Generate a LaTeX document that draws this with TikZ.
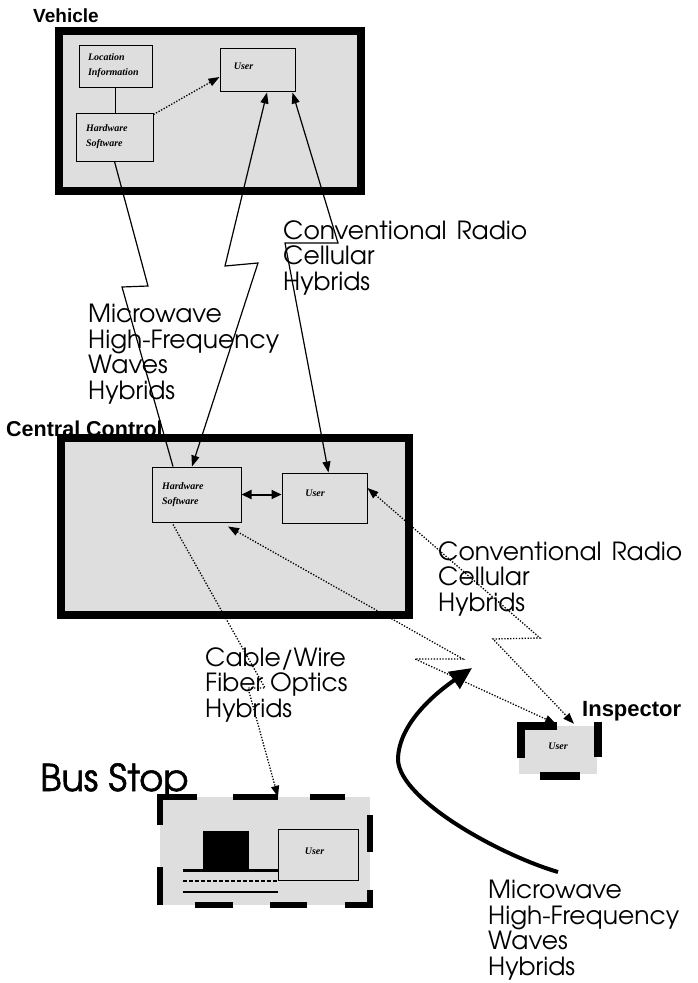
\documentclass[tikz,border=0pt]{standalone}
\usepackage{fontspec}
\usetikzlibrary{arrows.meta}
\newfontfamily\agfont{texgyreadventor-regular.otf}
\newfontfamily\agfontb{texgyreadventor-regular.otf}[FakeBold=1.5]
\newfontfamily\lsfont{Liberation Sans}
\newfontfamily\scrfont{Liberation Serif}
\definecolor{stip}{gray}{0.87}
\begin{document}
\begin{tikzpicture}[x=1pt,y=-1pt,
  bigbox/.style={draw=black, line width=8pt, fill=stip, inner sep=0pt},
  smallbox/.style={draw=black, line width=1pt, fill=stip, inner ysep=2pt, inner xsep=0pt,
    font=\scrfont\fontsize{10}{15}\selectfont\bfseries\itshape, align=left},
  ttl/.style={font=\lsfont\bfseries\fontsize{19}{22}\selectfont, inner sep=0pt, anchor=north west},
  media/.style={font=\agfont\fontsize{25}{25.5}\selectfont, align=left, inner sep=0pt, anchor=north west},
  thinline/.style={line width=1.2pt},
  tipboth/.style={{Triangle[length=11pt,width=8pt]}-{Triangle[length=11pt,width=8pt]}},
  tipend/.style={-{Triangle[length=11pt,width=8pt]}},
  dotline/.style={line width=1.3pt, dash pattern=on 1.3pt off 1.6pt},
  busdash/.style={line width=6pt},
  inspbar/.style={line width=8pt},
]
\fill[white] (0,0) rectangle (697,983);
\useasboundingbox (0,0) rectangle (697,983);

% ---------- Vehicle ----------
\node[ttl] (lvehicle) at (33,9) {Vehicle};
\node[bigbox, minimum width=302, minimum height=160] (vehicle) at (210,111) {};
\node[smallbox, text width=55pt, minimum width=73, minimum height=42] (vloc) at (115.5,66) {Location\\Information};
\node[smallbox, text width=57pt, minimum width=77, minimum height=48] (vhw) at (114.5,137) {Hardware\\Software};
\node[smallbox, minimum width=75, minimum height=43] (vuser) at (257.5,69.5) {\raisebox{7pt}{User}\hspace{28pt}};
\draw[thinline] (vloc.south) -- (vloc.south |- vhw.north);
\draw[dotline, tipend] ([yshift=-2pt]vhw.north east) -- ([yshift=-7.5pt]vuser.west);

% ---------- Central Control ----------
\node[bigbox, minimum width=348, minimum height=177] (central) at (235,526.5) {};
\node[ttl, anchor=base west, font=\lsfont\bfseries\fontsize{21.5}{24}\selectfont] (lcentral) at (6,436) {Central Control};
\node[smallbox, text width=69pt, minimum width=89, minimum height=55] (chw) at (196.5,494.5) {Hardware\\Software};
\node[smallbox, minimum width=85, minimum height=50] (cuser) at (324.5,498) {\raisebox{10pt}{User}\hspace{19pt}};
\draw[line width=2pt, {Triangle[length=10pt,width=9pt]}-{Triangle[length=10pt,width=9pt]}]
  (chw.east) -- (chw.east -| cuser.west);

% ---------- Bus Stop ----------
\node[inner sep=0pt, anchor=base west, font=\agfontb\fontsize{37}{40}\selectfont] (lbus) at (40,791) {Bus Stop};
\node[fill=stip, minimum width=210, minimum height=108, inner sep=0pt] (bus) at (265,851) {};
\draw[busdash] (157,797) -- (197,797);
\draw[busdash] (233,797) -- (278,797);
\draw[busdash] (310,797) -- (345,797);
\draw[busdash] (160,794) -- (160,825);
\draw[busdash] (160,867) -- (160,905);
\draw[busdash] (195,905) -- (233,905);
\draw[busdash] (270,905) -- (307,905);
\draw[busdash] (345,905) -- (373,905);
\draw[busdash] (370,815) -- (370,852);
\draw[busdash] (370,890) -- (370,908);
\fill[black] (203,831) rectangle (249,870);
\draw[line width=3pt] (183,870) -- (278,870);
\draw[line width=2pt, dash pattern=on 4pt off 2pt] (183,881) -- (278,881);
\draw[line width=2.5pt] (183,892) -- (278,892);
\node[smallbox, minimum width=80, minimum height=51] (bususer) at (318,854.5) {\raisebox{7pt}{User}\hspace{7pt}};

% ---------- Inspector ----------
\node[ttl, font=\lsfont\bfseries\fontsize{22}{24}\selectfont] (linsp) at (582,701) {Inspector};
\node[fill=stip, minimum width=78, minimum height=48, inner sep=0pt,
  font=\scrfont\fontsize{10}{12}\selectfont\bfseries\itshape] (insp) at (558,750) {\raisebox{8pt}{User}\hspace{6pt}};
\draw[inspbar] (517,726) -- (557,726);
\draw[inspbar] (521,722) -- (521,758);
\draw[inspbar] (598,722) -- (598,757);
\draw[inspbar] (540,776) -- (580,776);

% ---------- media labels ----------
\node[media] (lconv1) at (283,220) {Conventional\hspace{10pt}Radio\\Cellular\\Hybrids};
\node[media] (lmicro1) at (88,304) {Microwave\\High-Frequency\\Waves\\Hybrids};
\node[media] (lconv2) at (438,541) {Conventional\hspace{10pt}Radio\\Cellular\\Hybrids};
\node[media] (lcable) at (205,647) {Cable/Wire\\Fiber Optics\\Hybrids};
\node[media] (lmicro2) at (488,880) {Microwave\\High-Frequency\\Waves\\Hybrids};

% ---------- links ----------
\draw[thinline] (vhw.south) -- (148,286) -- (122,287) -- ([xshift=-23.5pt]chw.north);
\draw[thinline, tipboth] ([xshift=9.5pt,yshift=-1pt]vuser.south) -- (225,266) -- (258,263) -- ([xshift=-4.5pt]chw.north);
\draw[thinline, tipboth] ([xshift=-3pt,yshift=-1pt]vuser.south east) -- (338,243) -- (285,243) -- ([xshift=4pt]cuser.north);
\draw[dotline, tipend] ([xshift=-23.5pt,yshift=-2pt]chw.south) -- (265,688) -- (248,688) -- ([xshift=13pt]bus.north);
\draw[dotline, tipboth] ([yshift=10pt]cuser.east) -- (540,638) -- (493,639) -- ([xshift=16pt,yshift=2pt]insp.north);
\draw[dotline, tipboth] ([xshift=31.5pt,yshift=-4pt]chw.south) -- (463,659) -- (415,659) -- ([xshift=-2pt,yshift=2pt]insp.north);

% ---------- big curved arrow ----------
\coordinate (cstart) at (558,872);
\coordinate (cend) at (472,668);
\draw[line width=4pt, -{Triangle[length=22pt,width=20pt]}]
  (cstart) .. controls (500,855) and (400,800) .. (398,760)
  .. controls (398,722) and (440,690) .. (cend);
\end{tikzpicture}
\end{document}
